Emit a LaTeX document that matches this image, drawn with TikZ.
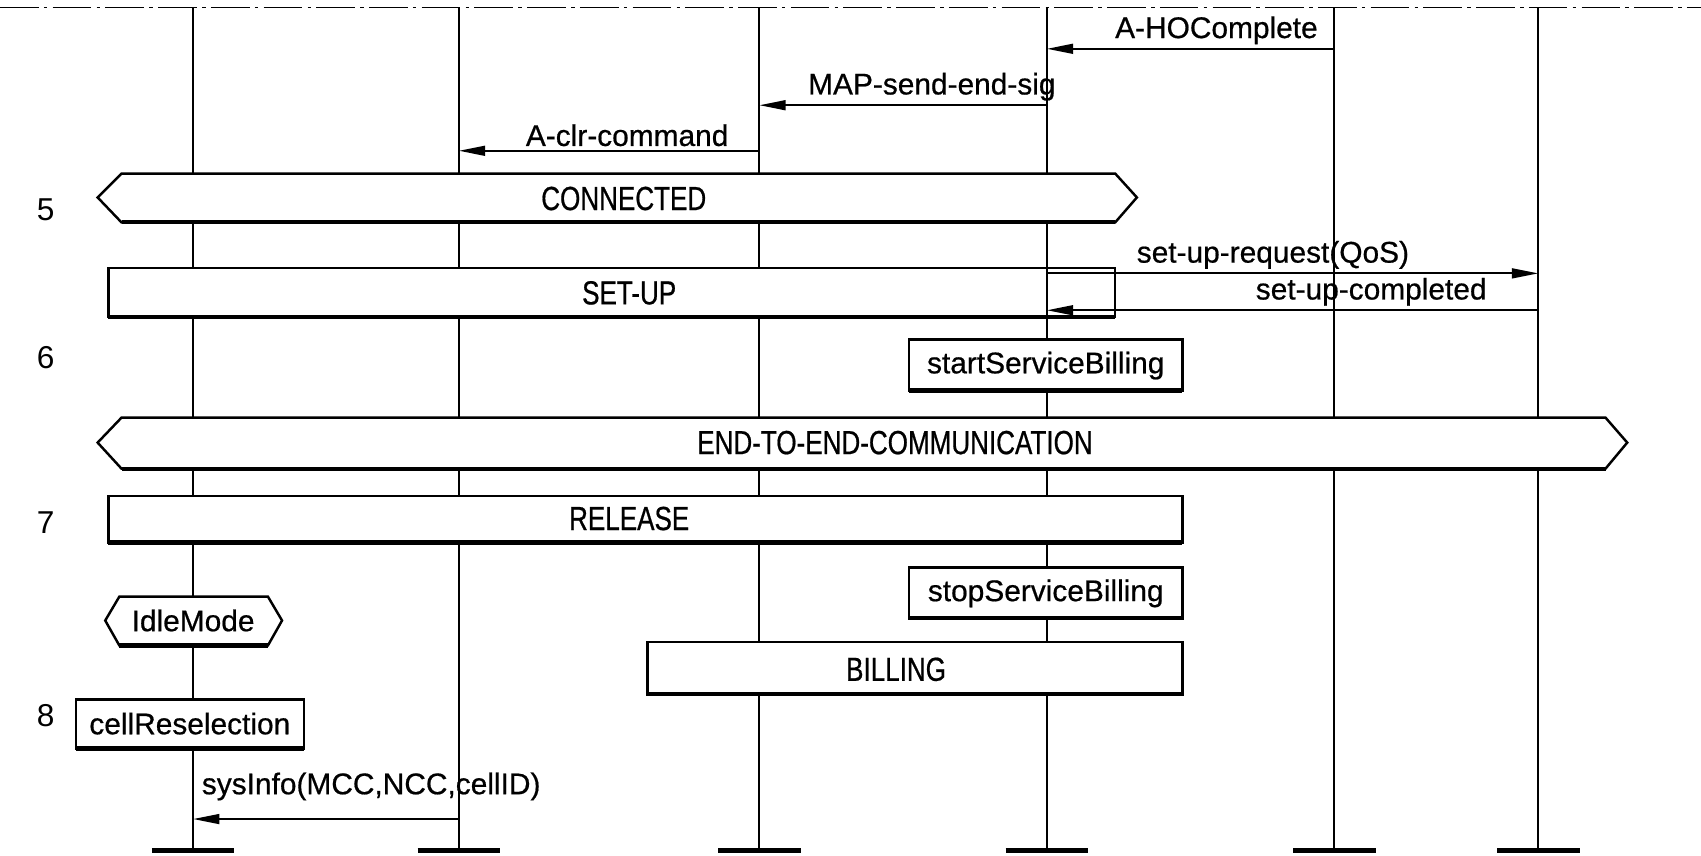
\documentclass[tikz,border=0pt]{standalone}
\usepackage{fontspec}
\setmainfont{Liberation Sans}[FakeBold=0.6]
\newfontfamily\capsfont{Liberation Sans}[FakeStretch=0.78, FakeBold=0.6]
\newfontfamily\numfont{Liberation Sans}
\usetikzlibrary{arrows.meta}

\tikzset{
	lifeline/.style={line width=0.6pt},
	endbar/.style={line width=1.5pt},
	msg/.style={line width=0.6pt, -{Triangle[length=7.5pt,width=2.8pt]}},
	shape box/.style={draw, line width=0.7pt, fill=white},
	base/.style={line width=1.2pt},
	lbl/.style={font=\fontsize{8.5}{10}\selectfont, inner sep=1pt},
	caplbl/.style={font=\capsfont\fontsize{9.5}{11}\selectfont, inner sep=1pt},
	stepnum/.style={font=\numfont\fontsize{9}{10}\selectfont, inner sep=0pt},
}

\begin{document}
\begin{tikzpicture}[x=0.010848cm, y=-0.010848cm]
	\useasboundingbox (0,0) rectangle (1568,789);
	\draw[line width=0.5pt, dash pattern=on 11pt off 1.5pt on 1pt off 1.5pt] (0,7) -- (1568,7);
	% instances
	\foreach \n/\x in {1/178,2/423,3/700,4/965,5/1230,6/1418} {
		\coordinate (L\n) at (\x,7);
		\coordinate (E\n) at (\x,784);
		\draw[lifeline] (L\n) -- (E\n);
		\draw[endbar] (\x-38,784) -- (\x+38,784);
	}
	% conditions and references
	\draw[shape box] (90,182) -- (112,160) -- (1028,160) -- (1048,182) -- (1028,205) -- (112,205) -- cycle;
	\draw[base] (112,205) -- (1028,205);
	\node[caplbl] (connected) at (575,183) {CONNECTED};
	\draw[shape box] (100,247) rectangle (1028,292);
	\draw[base] (100,292) -- (1028,292);
	\node[caplbl] (setup) at (580,270) {SET-UP};
	\draw[lifeline] (L4 |- 0,247) -- (L4 |- 0,292);
	\draw[shape box] (838,313) rectangle (1090,360);
	\draw[base] (838,360) -- (1090,360);
	\node[lbl] (startbill) at (964,337) {startServiceBilling};
	\draw[shape box] (90,408) -- (112,385) -- (1480,385) -- (1500,408) -- (1480,432) -- (112,432) -- cycle;
	\draw[base] (112,432) -- (1480,432);
	\node[caplbl] (e2e) at (825,408) {END-TO-END-COMMUNICATION};
	\draw[shape box] (100,457) rectangle (1090,500);
	\draw[base] (100,500) -- (1090,500);
	\node[caplbl] (release) at (580,478) {RELEASE};
	\draw[shape box] (838,523) rectangle (1090,570);
	\draw[base] (838,570) -- (1090,570);
	\node[lbl] (stopbill) at (964,547) {stopServiceBilling};
	\draw[shape box] (97,572) -- (110,550) -- (247,550) -- (260,572) -- (247,595) -- (110,595) -- cycle;
	\draw[base] (110,595) -- (247,595);
	\node[lbl] (idle) at (178,572) {IdleMode};
	\draw[shape box] (597,592) rectangle (1090,640);
	\draw[base] (597,640) -- (1090,640);
	\node[caplbl] (billing) at (826,617) {BILLING};
	\draw[shape box] (70,645) rectangle (280,690);
	\draw[base] (70,690) -- (280,690);
	\node[lbl] (reselect) at (175,667) {cellReselection};
	% messages
	\draw[msg] (L5 |- 0,45) -- node[lbl, pos=0.41, above] (hocomplete) {A-HOComplete} (L4 |- 0,45);
	\draw[msg] (L4 |- 0,97) -- node[lbl, pos=0.40, above] (mapsend) {MAP-send-end-sig} (L3 |- 0,97);
	\draw[msg] (L3 |- 0,139) -- node[lbl, pos=0.44, above] (clrcmd) {A-clr-command} (L2 |- 0,139);
	\draw[msg] (L4 |- 0,252) -- node[lbl, pos=0.46, above] (setupreq) {set-up-request(QoS)} (L6 |- 0,252);
	\draw[msg] (L6 |- 0,286) -- node[lbl, pos=0.34, above] (setupcpl) {set-up-completed} (L4 |- 0,286);
	\draw[msg] (L2 |- 0,755) -- node[lbl, pos=0.33, above=4pt] (sysinfo) {sysInfo(MCC,NCC,cellID)} (L1 |- 0,755);
	% step numbers
	\node[stepnum] (s5) at (42,193) {5};
	\node[stepnum] (s6) at (42,330) {6};
	\node[stepnum] (s7) at (42,482) {7};
	\node[stepnum] (s8) at (42,660) {8};
\end{tikzpicture}
\end{document}
